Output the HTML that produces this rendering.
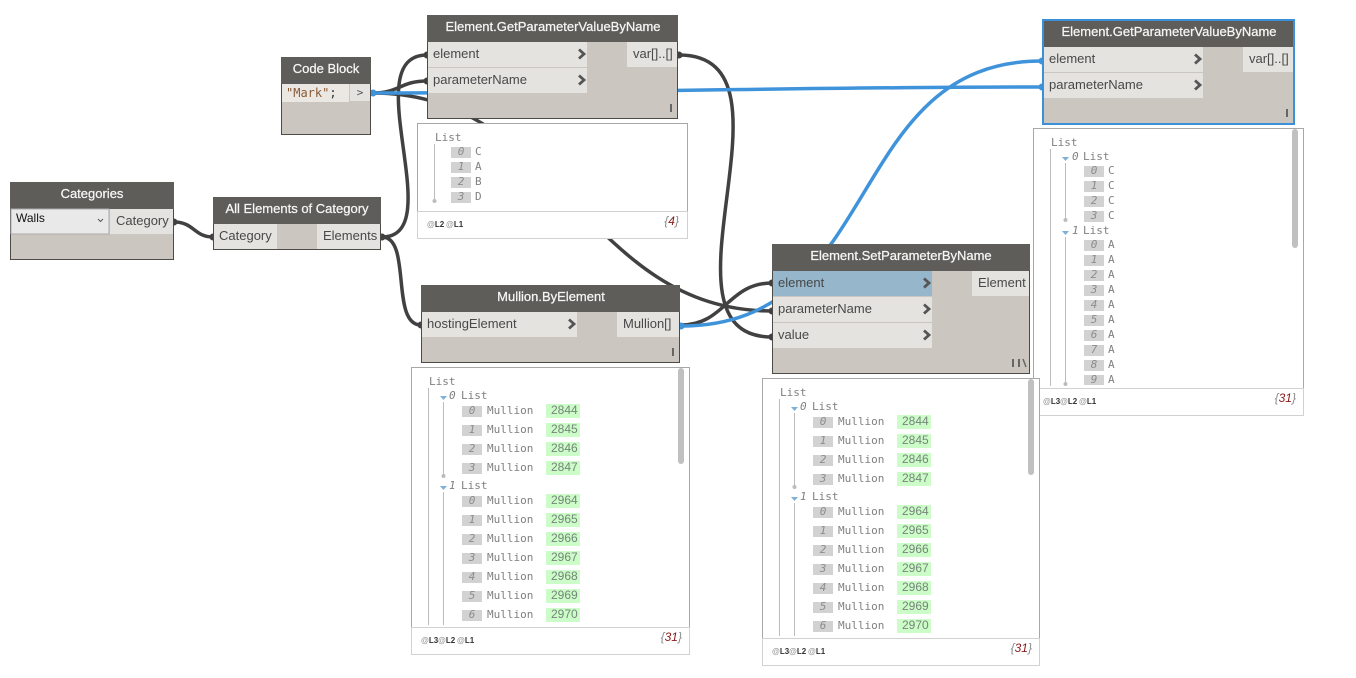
<!DOCTYPE html>
<html><head><meta charset="utf-8"><style>
html,body{margin:0;padding:0;background:#fff;width:1356px;height:678px;overflow:hidden}
svg{display:block}
text{font-family:"Liberation Sans",sans-serif}
.h{font-size:13px;fill:#f6f6f4;stroke:#f6f6f4;stroke-width:.25px;text-anchor:middle}
.p{font-size:13px;fill:#484848}
.n{fill:#cbc6bf;stroke:#4c4b48;stroke-width:1}
.hd{fill:#5f5d59}
.r{fill:#e4e3df}
.c{fill:none;stroke:#555;stroke-width:2.8}
.wd{fill:none;stroke:#414141;stroke-width:3.5}
.wb{fill:none;stroke:#3f93db;stroke-width:3.5}
.w{fill:#fff;stroke:#a8a8a8;stroke-width:1}
.fl{fill:#fff;stroke:#d2d2d2;stroke-width:1}
.m{font-family:"DejaVu Sans Mono",monospace;font-size:11px;fill:#808080}
.t{font-family:"DejaVu Sans Mono",monospace;font-size:11px;fill:#808080;font-style:italic}
.x{font-family:"DejaVu Sans Mono",monospace;font-size:11px;fill:#8c8c8c;font-style:italic;text-anchor:middle}
.b{fill:#d2d2d2}
.g{fill:#ccfcc8}
.v{font-size:12px;fill:#75857a}
.l{stroke:#bcbcbc;stroke-width:1;fill:none}
.d{fill:#bcbcbc}
.a{fill:#7fb0d8}
.s{fill:#c0c0c0}
.f{font-size:8px;font-weight:bold;fill:#333}
.at{fill:#999}
.cn{font-size:12px;font-style:italic;fill:#888;text-anchor:end}
.cr{fill:#8b1a1a}
.lc{fill:#666}
</style></head><body>
<svg width="1356" height="678" viewBox="0 0 1356 678" xmlns="http://www.w3.org/2000/svg">
<!-- wires -->
<path class="wd" d="M174,222 C194,222 194,237 213,237"/>
<path class="wd" d="M382,237 C450,237 355,55 427,55"/>
<path class="wd" d="M382,237 C412,237 390,325 421,325"/>
<path class="wd" d="M373,93 C400,93 400,81 427,81"/>
<path class="wd" d="M373,93 C560,93 585,311 772,311"/>
<path class="wd" d="M679,55 C810,55 645,337 772,337"/>
<path class="wd" d="M681,325 C725,325 728,283 772,283"/>
<path class="wb" d="M373,93 C600,93 800,87 1042,87"/>
<path class="wb" d="M681,326 C885,326 843,61 1042,61"/>
<!-- port dots -->
<g fill="#414141"><circle cx="174" cy="222" r="3.5"/><circle cx="213" cy="237" r="3.5"/><circle cx="382" cy="237" r="3.5"/><circle cx="427" cy="55" r="3.5"/><circle cx="427" cy="81" r="3.5"/><circle cx="679" cy="55" r="3.5"/><circle cx="421" cy="325" r="3.5"/><circle cx="772" cy="283" r="3.5"/><circle cx="772" cy="311" r="3.5"/><circle cx="772" cy="337" r="3.5"/></g>
<g fill="#3f93db"><circle cx="373" cy="93" r="3.5"/><circle cx="681" cy="326" r="3.5"/><circle cx="1042" cy="61" r="3.5"/><circle cx="1042" cy="87" r="3.5"/></g>

<!-- Categories -->
<rect class="n" x="10.5" y="182.5" width="163" height="77"/>
<rect class="hd" x="10" y="182" width="164" height="27"/>
<text class="h" x="92" y="198">Categories</text>
<rect x="11" y="209" width="98" height="25" fill="#e9e9e9" stroke="#acacac"/>
<rect class="r" x="110" y="209" width="63" height="25"/>
<text x="16" y="222" font-size="12" fill="#111">Walls</text>
<path d="M98,219 l2.5,2.5 l2.5,-2.5" fill="none" stroke="#555" stroke-width="1"/>
<text class="p" x="116" y="225">Category</text>

<!-- All Elements -->
<rect class="n" x="213.5" y="197.5" width="167" height="52"/>
<rect class="hd" x="213" y="197" width="168" height="27"/>
<text class="h" x="297" y="213">All Elements of Category</text>
<rect class="r" x="214" y="224" width="63" height="25"/>
<rect class="r" x="317" y="224" width="63" height="25"/>
<text class="p" x="219" y="240">Category</text>
<text class="p" x="323" y="240">Elements</text>

<!-- Code Block -->
<rect class="n" x="281.5" y="57.5" width="89" height="77"/>
<rect class="hd" x="281" y="57" width="90" height="27"/>
<text class="h" x="326" y="73">Code Block</text>
<rect x="282" y="84" width="67" height="18" fill="#ebe8e4"/>
<rect class="r" x="350" y="84" width="20" height="17"/>
<text x="286" y="97" font-size="12" fill="#8a5a35" style="font-family:'DejaVu Sans Mono',monospace">"Mark"<tspan fill="#333">;</tspan></text>
<text x="360" y="96" font-size="11" fill="#555" text-anchor="middle" style="font-family:'DejaVu Sans Mono',monospace">&gt;</text>

<!-- GetParam 1 -->
<rect class="n" x="427.5" y="15.5" width="250" height="103"/>
<rect class="hd" x="427" y="15" width="251" height="27"/>
<text class="h" x="553" y="31">Element.GetParameterValueByName</text>
<rect class="r" x="428" y="42" width="159" height="25"/>
<rect class="r" x="428" y="68" width="159" height="25"/>
<rect class="r" x="627" y="42" width="50" height="25"/>
<text class="p" x="433" y="58">element</text>
<text class="p" x="433" y="84">parameterName</text>
<text class="p" x="633" y="58">var[]..[]</text>
<path class="c" d="M579,49.5 l5,4.5 l-5,4.5"/><path class="c" d="M579,75.5 l5,4.5 l-5,4.5"/>
<rect class="lc" x="670" y="104" width="2" height="8"/>

<!-- Watch 1 -->
<rect class="w" x="417.5" y="123.5" width="270" height="88"/>
<rect class="fl" x="417.5" y="211.5" width="270" height="27"/>
<text class="m" x="435" y="141">List</text>
<path class="l" d="M434.5,144 V201"/><circle class="d" cx="434.5" cy="201" r="2"/>
<rect class="b" x="451" y="147" width="20" height="11"/><text class="x" x="461" y="155">0</text><text class="m" x="475" y="155">C</text>
<rect class="b" x="451" y="162" width="20" height="11"/><text class="x" x="461" y="170">1</text><text class="m" x="475" y="170">A</text>
<rect class="b" x="451" y="177" width="20" height="11"/><text class="x" x="461" y="185">2</text><text class="m" x="475" y="185">B</text>
<rect class="b" x="451" y="192" width="20" height="11"/><text class="x" x="461" y="200">3</text><text class="m" x="475" y="200">D</text>
<text class="f" x="427" y="227"><tspan class="at">@</tspan>L2</text><text class="f" x="446" y="227"><tspan class="at">@</tspan>L1</text>
<text class="cn" x="679" y="225">{<tspan class="cr">4</tspan>}</text>

<!-- GetParam 2 selected -->
<rect x="1043" y="20" width="251" height="104" fill="#cbc6bf" stroke="#3c90d8" stroke-width="2"/>
<rect class="hd" x="1044" y="21" width="249" height="26"/>
<text class="h" x="1169" y="36">Element.GetParameterValueByName</text>
<rect class="r" x="1044" y="47" width="159" height="25"/>
<rect class="r" x="1044" y="73" width="159" height="25"/>
<rect class="r" x="1243" y="47" width="50" height="25"/>
<text class="p" x="1049" y="63">element</text>
<text class="p" x="1049" y="89">parameterName</text>
<text class="p" x="1249" y="63">var[]..[]</text>
<path class="c" d="M1195,54.5 l5,4.5 l-5,4.5"/><path class="c" d="M1195,80.5 l5,4.5 l-5,4.5"/>
<rect class="lc" x="1286" y="109" width="2" height="8"/>

<!-- Watch 3 -->
<rect class="w" x="1033.5" y="128.5" width="270" height="260"/>
<rect class="fl" x="1033.5" y="388.5" width="270" height="27"/>
<text class="m" x="1051" y="146">List</text>
<path class="l" d="M1050.5,149 V386"/>
<path class="a" d="M1062,157 h7 l-3.5,4z"/><text class="t" x="1072" y="160">0</text><text class="m" x="1083" y="160">List</text>
<path class="l" d="M1065.5,163 V220"/><circle class="d" cx="1065.5" cy="220" r="2"/>
<rect class="b" x="1084" y="166" width="20" height="11"/><text class="x" x="1094" y="174">0</text><text class="m" x="1108" y="174">C</text>
<rect class="b" x="1084" y="181" width="20" height="11"/><text class="x" x="1094" y="189">1</text><text class="m" x="1108" y="189">C</text>
<rect class="b" x="1084" y="196" width="20" height="11"/><text class="x" x="1094" y="204">2</text><text class="m" x="1108" y="204">C</text>
<rect class="b" x="1084" y="211" width="20" height="11"/><text class="x" x="1094" y="219">3</text><text class="m" x="1108" y="219">C</text>
<path class="a" d="M1062,231 h7 l-3.5,4z"/><text class="t" x="1072" y="234">1</text><text class="m" x="1083" y="234">List</text>
<path class="l" d="M1065.5,237 V383"/><circle class="d" cx="1065.5" cy="384" r="2"/>
<rect class="b" x="1084" y="240" width="20" height="11"/><text class="x" x="1094" y="248">0</text><text class="m" x="1108" y="248">A</text>
<rect class="b" x="1084" y="255" width="20" height="11"/><text class="x" x="1094" y="263">1</text><text class="m" x="1108" y="263">A</text>
<rect class="b" x="1084" y="270" width="20" height="11"/><text class="x" x="1094" y="278">2</text><text class="m" x="1108" y="278">A</text>
<rect class="b" x="1084" y="285" width="20" height="11"/><text class="x" x="1094" y="293">3</text><text class="m" x="1108" y="293">A</text>
<rect class="b" x="1084" y="300" width="20" height="11"/><text class="x" x="1094" y="308">4</text><text class="m" x="1108" y="308">A</text>
<rect class="b" x="1084" y="315" width="20" height="11"/><text class="x" x="1094" y="323">5</text><text class="m" x="1108" y="323">A</text>
<rect class="b" x="1084" y="330" width="20" height="11"/><text class="x" x="1094" y="338">6</text><text class="m" x="1108" y="338">A</text>
<rect class="b" x="1084" y="345" width="20" height="11"/><text class="x" x="1094" y="353">7</text><text class="m" x="1108" y="353">A</text>
<rect class="b" x="1084" y="360" width="20" height="11"/><text class="x" x="1094" y="368">8</text><text class="m" x="1108" y="368">A</text>
<rect class="b" x="1084" y="375" width="20" height="10"/><text class="x" x="1094" y="383">9</text><text class="m" x="1108" y="383">A</text>
<rect class="s" x="1292" y="129" width="6" height="119" rx="3"/>
<text class="f" x="1043" y="404"><tspan class="at">@</tspan>L3</text><text class="f" x="1060" y="404"><tspan class="at">@</tspan>L2</text><text class="f" x="1079" y="404"><tspan class="at">@</tspan>L1</text>
<text class="cn" x="1296" y="402">{<tspan class="cr">31</tspan>}</text>

<!-- Mullion -->
<rect class="n" x="421.5" y="285.5" width="258" height="77"/>
<rect class="hd" x="421" y="285" width="259" height="27"/>
<text class="h" x="551" y="301">Mullion.ByElement</text>
<rect class="r" x="422" y="312" width="155" height="25"/>
<rect class="r" x="617" y="312" width="62" height="25"/>
<text class="p" x="427" y="328">hostingElement</text>
<text class="p" x="623" y="328">Mullion[]</text>
<path class="c" d="M569,319.5 l5,4.5 l-5,4.5"/>
<rect class="lc" x="672" y="348" width="2" height="8"/>

<!-- Watch Mullion -->
<rect class="w" x="411.5" y="367.5" width="278" height="260"/>
<rect class="fl" x="411.5" y="627.5" width="278" height="27"/>
<text class="m" x="429" y="385">List</text>
<path class="l" d="M428.5,388 V625"/>
<path class="a" d="M440,396 h7 l-3.5,4z"/><text class="t" x="449" y="399">0</text><text class="m" x="461" y="399">List</text>
<path class="l" d="M443.5,402 V475"/><circle class="d" cx="443.5" cy="476" r="2"/>
<rect class="b" x="462" y="406" width="20" height="11"/><text class="x" x="472" y="414">0</text><text class="m" x="487" y="414">Mullion</text><rect class="g" x="546" y="404" width="34" height="14"/><text class="v" x="551" y="414">2844</text>
<rect class="b" x="462" y="425" width="20" height="11"/><text class="x" x="472" y="433">1</text><text class="m" x="487" y="433">Mullion</text><rect class="g" x="546" y="423" width="34" height="14"/><text class="v" x="551" y="433">2845</text>
<rect class="b" x="462" y="444" width="20" height="11"/><text class="x" x="472" y="452">2</text><text class="m" x="487" y="452">Mullion</text><rect class="g" x="546" y="442" width="34" height="14"/><text class="v" x="551" y="452">2846</text>
<rect class="b" x="462" y="463" width="20" height="11"/><text class="x" x="472" y="471">3</text><text class="m" x="487" y="471">Mullion</text><rect class="g" x="546" y="461" width="34" height="14"/><text class="v" x="551" y="471">2847</text>
<path class="a" d="M440,486 h7 l-3.5,4z"/><text class="t" x="449" y="489">1</text><text class="m" x="461" y="489">List</text>
<path class="l" d="M443.5,492 V625"/>
<rect class="b" x="462" y="496" width="20" height="11"/><text class="x" x="472" y="504">0</text><text class="m" x="487" y="504">Mullion</text><rect class="g" x="546" y="494" width="34" height="14"/><text class="v" x="551" y="504">2964</text>
<rect class="b" x="462" y="515" width="20" height="11"/><text class="x" x="472" y="523">1</text><text class="m" x="487" y="523">Mullion</text><rect class="g" x="546" y="513" width="34" height="14"/><text class="v" x="551" y="523">2965</text>
<rect class="b" x="462" y="534" width="20" height="11"/><text class="x" x="472" y="542">2</text><text class="m" x="487" y="542">Mullion</text><rect class="g" x="546" y="532" width="34" height="14"/><text class="v" x="551" y="542">2966</text>
<rect class="b" x="462" y="553" width="20" height="11"/><text class="x" x="472" y="561">3</text><text class="m" x="487" y="561">Mullion</text><rect class="g" x="546" y="551" width="34" height="14"/><text class="v" x="551" y="561">2967</text>
<rect class="b" x="462" y="572" width="20" height="11"/><text class="x" x="472" y="580">4</text><text class="m" x="487" y="580">Mullion</text><rect class="g" x="546" y="570" width="34" height="14"/><text class="v" x="551" y="580">2968</text>
<rect class="b" x="462" y="591" width="20" height="11"/><text class="x" x="472" y="599">5</text><text class="m" x="487" y="599">Mullion</text><rect class="g" x="546" y="589" width="34" height="14"/><text class="v" x="551" y="599">2969</text>
<rect class="b" x="462" y="610" width="20" height="11"/><text class="x" x="472" y="618">6</text><text class="m" x="487" y="618">Mullion</text><rect class="g" x="546" y="608" width="34" height="14"/><text class="v" x="551" y="618">2970</text>
<rect class="s" x="678" y="368" width="6" height="96" rx="3"/>
<text class="f" x="421" y="643"><tspan class="at">@</tspan>L3</text><text class="f" x="438" y="643"><tspan class="at">@</tspan>L2</text><text class="f" x="457" y="643"><tspan class="at">@</tspan>L1</text>
<text class="cn" x="682" y="641">{<tspan class="cr">31</tspan>}</text>

<!-- Set -->
<rect class="n" x="772.5" y="244.5" width="257" height="129"/>
<rect class="hd" x="772" y="244" width="258" height="27"/>
<text class="h" x="901" y="260">Element.SetParameterByName</text>
<rect x="773" y="271" width="159" height="25" fill="#95b6cb"/>
<rect class="r" x="773" y="297" width="159" height="25"/>
<rect class="r" x="773" y="323" width="159" height="25"/>
<rect class="r" x="972" y="271" width="57" height="25"/>
<text class="p" x="778" y="287">element</text>
<text class="p" x="778" y="313">parameterName</text>
<text class="p" x="778" y="339">value</text>
<text class="p" x="978" y="287">Element</text>
<path class="c" d="M924,278.5 l5,4.5 l-5,4.5"/><path class="c" d="M924,304.5 l5,4.5 l-5,4.5"/><path class="c" d="M924,330.5 l5,4.5 l-5,4.5"/>
<rect class="lc" x="1012" y="359" width="2" height="8"/><rect class="lc" x="1018" y="359" width="2" height="8"/>
<path d="M1023,359 l3,8" stroke="#666" stroke-width="1.5" fill="none"/>

<!-- Watch Set -->
<rect class="w" x="762.5" y="378.5" width="277" height="260"/>
<rect class="fl" x="762.5" y="638.5" width="277" height="27"/>
<text class="m" x="780" y="396">List</text>
<path class="l" d="M779.5,399 V636"/>
<path class="a" d="M791,407 h7 l-3.5,4z"/><text class="t" x="800" y="410">0</text><text class="m" x="812" y="410">List</text>
<path class="l" d="M794.5,413 V486"/><circle class="d" cx="794.5" cy="487" r="2"/>
<rect class="b" x="813" y="417" width="20" height="11"/><text class="x" x="823" y="425">0</text><text class="m" x="838" y="425">Mullion</text><rect class="g" x="897" y="415" width="34" height="14"/><text class="v" x="902" y="425">2844</text>
<rect class="b" x="813" y="436" width="20" height="11"/><text class="x" x="823" y="444">1</text><text class="m" x="838" y="444">Mullion</text><rect class="g" x="897" y="434" width="34" height="14"/><text class="v" x="902" y="444">2845</text>
<rect class="b" x="813" y="455" width="20" height="11"/><text class="x" x="823" y="463">2</text><text class="m" x="838" y="463">Mullion</text><rect class="g" x="897" y="453" width="34" height="14"/><text class="v" x="902" y="463">2846</text>
<rect class="b" x="813" y="474" width="20" height="11"/><text class="x" x="823" y="482">3</text><text class="m" x="838" y="482">Mullion</text><rect class="g" x="897" y="472" width="34" height="14"/><text class="v" x="902" y="482">2847</text>
<path class="a" d="M791,497 h7 l-3.5,4z"/><text class="t" x="800" y="500">1</text><text class="m" x="812" y="500">List</text>
<path class="l" d="M794.5,503 V636"/>
<rect class="b" x="813" y="507" width="20" height="11"/><text class="x" x="823" y="515">0</text><text class="m" x="838" y="515">Mullion</text><rect class="g" x="897" y="505" width="34" height="14"/><text class="v" x="902" y="515">2964</text>
<rect class="b" x="813" y="526" width="20" height="11"/><text class="x" x="823" y="534">1</text><text class="m" x="838" y="534">Mullion</text><rect class="g" x="897" y="524" width="34" height="14"/><text class="v" x="902" y="534">2965</text>
<rect class="b" x="813" y="545" width="20" height="11"/><text class="x" x="823" y="553">2</text><text class="m" x="838" y="553">Mullion</text><rect class="g" x="897" y="543" width="34" height="14"/><text class="v" x="902" y="553">2966</text>
<rect class="b" x="813" y="564" width="20" height="11"/><text class="x" x="823" y="572">3</text><text class="m" x="838" y="572">Mullion</text><rect class="g" x="897" y="562" width="34" height="14"/><text class="v" x="902" y="572">2967</text>
<rect class="b" x="813" y="583" width="20" height="11"/><text class="x" x="823" y="591">4</text><text class="m" x="838" y="591">Mullion</text><rect class="g" x="897" y="581" width="34" height="14"/><text class="v" x="902" y="591">2968</text>
<rect class="b" x="813" y="602" width="20" height="11"/><text class="x" x="823" y="610">5</text><text class="m" x="838" y="610">Mullion</text><rect class="g" x="897" y="600" width="34" height="14"/><text class="v" x="902" y="610">2969</text>
<rect class="b" x="813" y="621" width="20" height="11"/><text class="x" x="823" y="629">6</text><text class="m" x="838" y="629">Mullion</text><rect class="g" x="897" y="619" width="34" height="14"/><text class="v" x="902" y="629">2970</text>
<rect class="s" x="1028" y="379" width="6" height="96" rx="3"/>
<text class="f" x="772" y="654"><tspan class="at">@</tspan>L3</text><text class="f" x="789" y="654"><tspan class="at">@</tspan>L2</text><text class="f" x="808" y="654"><tspan class="at">@</tspan>L1</text>
<text class="cn" x="1032" y="652">{<tspan class="cr">31</tspan>}</text>
</svg>
</body></html>
